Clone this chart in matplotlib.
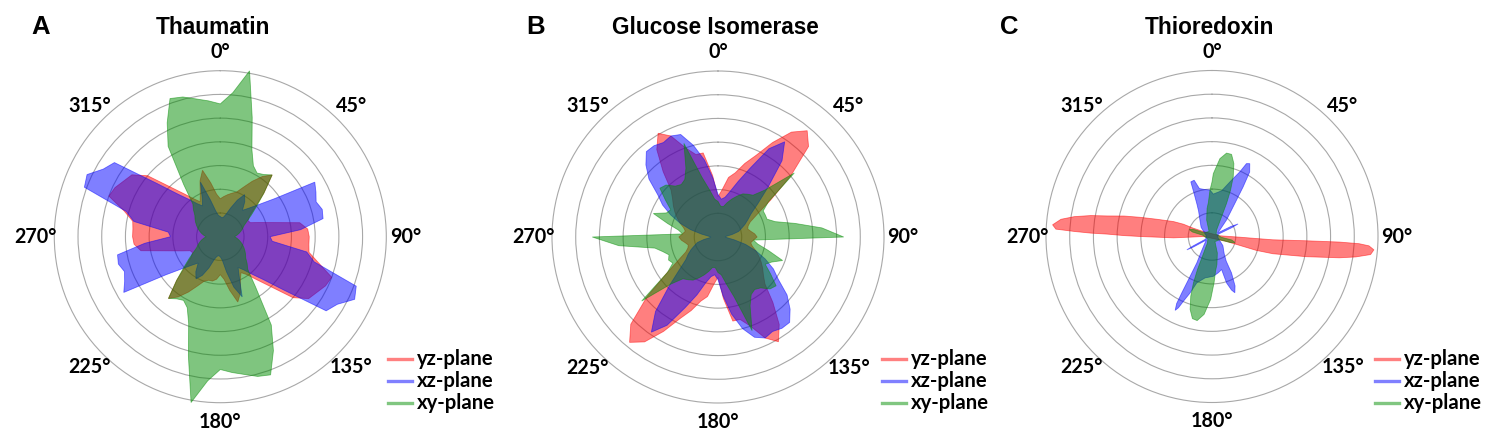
import numpy as np
import matplotlib
matplotlib.use('Agg')
import matplotlib.pyplot as plt
from matplotlib.lines import Line2D

#figure size in pixels
W, H = 1487, 442

#angle grid for panels A and B (degrees, clockwise from top)
ang5 = np.arange(0, 360, 5)

#A - Thaumatin
A_yz = [1.6, 1.7, 1.8, 1.9, 2.0, 2.3, 2.7, 3.1, 3.4, 2.6, 1.9, 1.5,
        1.35, 1.4, 1.75, 2.3, 3.4, 3.7, 3.75, 3.75, 3.8, 4.3, 5.0, 4.9,
        4.7, 4.55, 4.0, 2.95, 2.35, 1.95, 1.75, 2.0, 2.5, 2.85, 2.3, 1.8,
        1.6, 1.8, 1.9, 1.9, 2.0, 2.3, 2.7, 3.1, 3.4, 2.6, 1.9, 1.5,
        1.35, 1.4, 1.75, 2.3, 3.4, 3.65, 3.7, 3.7, 3.75, 4.2, 5.0, 4.9,
        4.7, 4.55, 4.0, 2.95, 2.35, 1.95, 1.7, 2.0, 2.5, 2.9, 2.3, 1.8]
A_xz = [0.85, 0.8, 0.85, 1.0, 1.3, 1.7, 2.05, 1.8, 1.45, 1.7, 2.1, 2.8,
        4.6, 4.45, 4.3, 4.45, 4.4, 3.4, 2.1, 2.2, 3.7, 4.1, 6.1, 6.25,
        5.7, 5.45, 3.5, 2.55, 2.05, 1.7, 1.5, 1.9, 2.7, 2.2, 1.5, 1.0,
        0.85, 0.8, 0.85, 1.0, 1.4, 1.8, 2.05, 1.8, 1.45, 1.7, 2.1, 2.8,
        4.7, 4.45, 4.3, 4.45, 4.4, 3.2, 2.1, 2.2, 3.7, 4.1, 6.1, 6.2,
        5.7, 5.45, 3.5, 2.55, 2.05, 1.7, 1.5, 1.8, 2.45, 1.6, 1.1, 0.9]
A_xy = [5.6, 6.1, 7.1, 5.2, 3.9, 3.3, 3.1, 3.2, 3.4, 2.6, 2.0, 1.6,
        1.3, 1.1, 1.0, 0.9, 0.8, 0.7, 0.6, 0.7, 0.8, 0.9, 1.0, 1.1,
        1.2, 1.3, 1.4, 1.6, 1.8, 2.6, 4.3, 5.3, 6.2, 6.1, 5.9, 5.75,
        5.6, 6.1, 7.1, 5.2, 3.9, 3.3, 3.1, 3.2, 3.4, 2.6, 2.0, 1.6,
        1.3, 1.1, 1.0, 0.9, 0.8, 0.7, 0.6, 0.7, 0.8, 0.9, 1.0, 1.1,
        1.2, 1.3, 1.4, 1.6, 1.8, 2.7, 4.4, 5.3, 6.2, 6.1, 5.9, 5.75]

#B - Glucose Isomerase
B_yz = [1.7, 2.0, 2.55, 2.8, 3.3, 3.8, 4.6, 5.4, 5.85, 5.4, 4.0, 2.7,
        1.9, 1.5, 1.35, 1.3, 1.4, 1.55, 1.65, 1.5, 1.4, 1.5, 1.7, 1.9,
        2.1, 2.3, 2.5, 2.8, 3.6, 4.5, 5.1, 4.7, 4.0, 3.6, 3.6, 2.6,
        1.7, 2.0, 2.55, 2.8, 3.3, 3.8, 4.6, 5.4, 5.8, 5.2, 3.9, 2.6,
        1.9, 1.5, 1.35, 1.3, 1.4, 1.55, 1.65, 1.5, 1.4, 1.5, 1.7, 1.9,
        2.1, 2.3, 2.5, 2.8, 3.6, 4.5, 5.05, 4.7, 4.0, 3.6, 3.6, 2.6]
B_xz = [1.8, 1.6, 1.7, 2.0, 2.5, 3.2, 4.3, 4.9, 4.2, 3.0, 2.2, 1.7,
        1.45, 1.25, 1.05, 0.9, 0.6, 0.35, 0.3, 0.4, 0.7, 1.2, 1.7, 2.2,
        2.7, 3.1, 3.8, 4.3, 4.7, 4.7, 4.6, 4.7, 4.5, 4.0, 3.3, 2.5,
        1.8, 1.6, 1.7, 2.0, 2.6, 3.3, 4.3, 4.9, 4.1, 2.9, 2.1, 1.65,
        1.45, 1.25, 1.05, 0.9, 0.6, 0.35, 0.3, 0.4, 0.7, 1.2, 1.7, 2.2,
        2.7, 3.1, 3.8, 4.3, 4.7, 4.7, 4.6, 4.7, 4.6, 4.0, 3.3, 2.5]
B_xy = [1.5, 1.3, 1.3, 1.5, 1.7, 1.9, 2.1, 2.2, 2.3, 2.8, 4.2, 2.6,
        2.2, 2.2, 2.2, 2.5, 3.3, 4.4, 5.3, 1.5, 1.7, 2.2, 2.9, 2.5,
        2.3, 2.7, 3.2, 3.1, 2.8, 2.7, 2.8, 3.2, 4.2, 2.6, 2.0, 1.6,
        1.5, 1.3, 1.3, 1.5, 1.7, 1.9, 2.1, 2.2, 2.3, 2.8, 4.2, 2.6,
        2.2, 2.3, 2.2, 2.4, 2.7, 4.2, 5.3, 1.5, 1.7, 2.2, 2.9, 2.4,
        2.3, 2.7, 3.2, 3.1, 2.8, 2.7, 2.8, 3.2, 4.2, 2.6, 2.0, 1.6]

#C - Thioredoxin (outline points: angle in degrees, radius)
C_yz_ang = [268.3, 268.0, 269.3, 270.0, 270.6, 271.3, 271.6, 272.1, 272.7, 274.2,
            276.5, 278.2, 279.8, 281.1, 283.1, 285.0, 287.4, 291.2, 293.3, 294.0, 300.0,
            85.0, 91.4, 92.6, 93.1, 92.6, 92.5, 92.8, 93.4, 94.7,
            96.5, 98.1, 99.5, 102.1, 105.8, 107.4, 107.8, 108.8, 270.0]
C_yz = [0.92, 1.62, 2.32, 3.02, 3.72, 4.41, 5.11, 5.81, 6.59, 6.74,
        6.41, 5.87, 5.19, 4.50, 3.81, 3.12, 2.43, 1.74, 1.31, 0.86, 0.42,
        0.34, 1.17, 1.87, 2.57, 3.97, 5.37, 6.21, 6.63, 6.85,
        6.73, 6.12, 5.44, 4.06, 2.67, 1.96, 1.23, 0.65, 0.36]
C_xz_ang = [1.8, 11.9, 19.1, 23.3, 25.3, 27.4, 30.3, 32.1, 34.6, 41.3, 50, 58,
            62, 64.3, 66, 70, 100, 130, 145, 150, 151.8, 155, 157.9, 160, 162.6,
            163.8, 170, 178.1, 189.5, 198.2, 201.2, 203.8, 205.2, 206.5, 207.8,
            208.2, 208.8, 209.9, 215, 225, 238, 240.5, 242, 243.5, 248, 280, 310,
            325, 332, 335, 337.4, 338.8, 342.4, 345.3, 351.6, 357.5]
C_xz = [1.79, 1.97, 2.51, 2.97, 3.40, 3.46, 3.15, 2.47, 1.70, 0.93, 0.44, 0.28,
        0.9, 1.22, 0.9, 0.28, 0.25, 0.6, 0.9, 1.2, 1.74, 2.3, 2.56, 2.4, 2.05,
        1.45, 1.55, 1.68, 1.77, 2.06, 2.55, 2.98, 3.32, 3.48, 3.2,
        2.69, 1.91, 1.29, 0.8, 0.45, 0.28, 0.9, 1.2, 0.9, 0.28, 0.25, 0.6,
        0.9, 1.2, 1.5, 1.97, 2.47, 2.49, 2.09, 2.0, 1.96]
C_xy_ang = [0, 1.2, 5.8, 9.9, 13.4, 16.7, 19.6, 21.8, 23.7, 25.8, 35, 60,
            95, 100, 104.6, 108, 113, 150, 162, 170, 174, 177.5, 181.2, 185.8,
            190, 193.4, 196.7, 199.6, 201.8, 203.7, 205.8, 215, 240, 278, 283,
            287, 291, 296, 330, 342, 350, 354, 357.5]
C_xy = [2.3, 2.65, 3.3, 3.57, 3.56, 3.21, 2.67, 2.11, 1.53, 0.93, 0.34, 0.2,
        0.4, 0.85, 1.0, 0.85, 0.35, 0.25, 0.73, 1.2, 1.45, 1.96, 2.65, 3.3,
        3.6, 3.56, 3.21, 2.67, 2.11, 1.53, 0.93, 0.34, 0.2, 0.4, 0.85,
        1.0, 0.85, 0.35, 0.25, 0.73, 1.2, 1.45, 1.96]

labels = ['yz-plane', 'xz-plane', 'xy-plane']
fill_cols = ['#ff0000', '#0000ff', '#008c00']
leg_cols = ['#ff8080', '#8080ff', '#80c680']
angle_ticks = [0, 45, 90, 135, 180, 225, 270, 315]

panels = [
    dict(letter='A', title='Thaumatin', c=(220.3, 236.7), tx=213, lx=41, legx=388,
         data=[(ang5, A_yz), (ang5, A_xz), (ang5, A_xy)]),
    dict(letter='B', title='Glucose Isomerase', c=(718, 237), tx=715, lx=536, legx=882,
         data=[(ang5, B_yz), (ang5, B_xz), (ang5, B_xy)]),
    dict(letter='C', title='Thioredoxin', c=(1212, 236.5), tx=1209, lx=1009, legx=1375,
         data=[(C_yz_ang, C_yz), (C_xz_ang, C_xz), (C_xy_ang, C_xy)]),
]

rmax = 7.3
R = 166 * rmax / 7  # axes radius in px

fig = plt.figure(figsize=(W / 100, H / 100), dpi=100)

for p in panels:
    cx, cy = p['c']
    ax = fig.add_axes([(cx - R) / W, (H - cy - R) / H, 2 * R / W, 2 * R / H], projection='polar')
    ax.set_theta_zero_location('N')
    ax.set_theta_direction(-1)
    ax.set_ylim(0, rmax)
    ax.set_yticks(range(1, 8))
    ax.set_yticklabels([])
    ax.set_xticks([])
    ax.yaxis.grid(True, color='#a8a8a8', lw=0.8)
    ax.spines['polar'].set_visible(False)
    ax.set_axisbelow(True)
    for (a, r), col in zip(p['data'], fill_cols):
        ax.fill(np.deg2rad(a), r, facecolor=col, edgecolor=col, alpha=0.5, lw=0.6)
    for t in angle_ticks:
        ax.text(np.deg2rad(t), 7.8, f'{t}°', ha='center', va='center',
                fontsize=14.2, fontweight='bold', family='Lato')
    fig.text(p['tx'] / W, 1 - 28 / H, p['title'], ha='center', va='center',
             fontsize=16.3, fontweight='bold', family='Liberation Sans')
    fig.text(p['lx'] / W, 1 - 27 / H, p['letter'], ha='center', va='center',
             fontsize=18.5, fontweight='bold', family='Liberation Sans')
    for i, (lab, lc) in enumerate(zip(labels, leg_cols)):
        y = 1 - (359 + 22 * i) / H
        x0 = p['legx']
        fig.add_artist(Line2D([x0 / W, (x0 + 24) / W], [y, y], color=lc, lw=2.4,
                              transform=fig.transFigure))
        fig.text((x0 + 29) / W, y, lab, ha='left', va='center',
                 fontsize=14.6, fontweight='bold', family='Lato')

fig.savefig('out.png', dpi=100)
